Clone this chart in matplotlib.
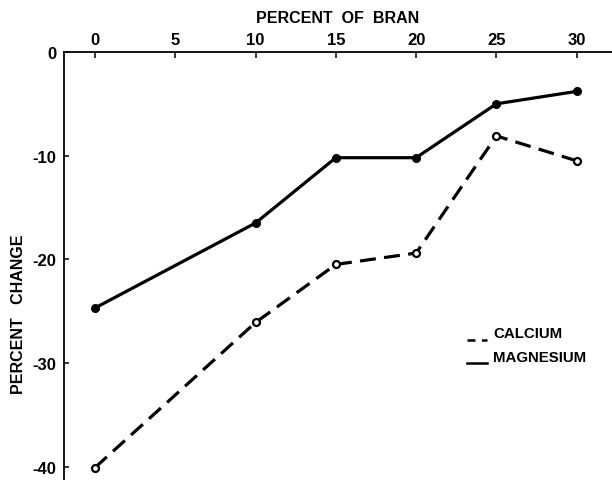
import matplotlib
matplotlib.use("Agg")
import matplotlib.pyplot as plt
from matplotlib.lines import Line2D

# Percent of bran in the diet
bran_pct = [0, 10, 15, 20, 25, 30]
# Percent change in retention
magnesium = [-24.7, -16.5, -10.2, -10.2, -5.0, -3.8]
calcium = [-40.1, -26.1, -20.5, -19.4, -8.1, -10.5]

x_ticks = [0, 5, 10, 15, 20, 25, 30]
y_ticks = [0, -10, -20, -30, -40]

plt.rcParams['font.family'] = ['Liberation Sans', 'DejaVu Sans']
plt.rcParams['font.weight'] = 'bold'

W, H = 612, 481
fig = plt.figure(figsize=(W / 100, H / 100), dpi=100)
ax = fig.add_axes([64 / W, 0.0, 1 - 64 / W, 1 - 53 / H])

ax.plot(bran_pct, magnesium, color='black', lw=2.3, marker='o', ms=5.5,
        mfc='black', mec='black', solid_capstyle='butt')
ax.plot(bran_pct, calcium, color='black', lw=2.3, dashes=[5, 2.6],
        marker='o', ms=5, mfc='white', mec='black', mew=1.6)

ax.set_xlim(-1.93, 32.2)
ax.set_ylim(-41.3, 0)

for side in ('right', 'bottom'):
    ax.spines[side].set_visible(False)
for side in ('left', 'top'):
    ax.spines[side].set_linewidth(1.3)

ax.xaxis.tick_top()
ax.xaxis.set_label_position('top')
ax.set_xticks(x_ticks)
ax.set_xticklabels([str(v) for v in x_ticks])
ax.set_yticks(y_ticks)
ax.set_yticklabels([str(v) for v in y_ticks])
ax.tick_params(axis='x', direction='in', length=4.5, width=1.1,
               labelsize=12, pad=3.5)
ax.tick_params(axis='y', direction='in', length=3.5, width=1.1,
               labelsize=12, pad=5.5)
ax.set_xlabel('PERCENT  OF  BRAN', fontsize=11.5, fontweight='bold',
              labelpad=7)

fig.text(19 / W, 1 - 314 / H, 'PERCENT   CHANGE', rotation=90,
         ha='center', va='center', fontsize=11.5, fontweight='bold')

# Key
fig.add_artist(Line2D([467 / W, 487 / W], [1 - 341 / H] * 2, color='black',
                      lw=1.8, dashes=[3.2, 2.6]))
fig.text(493 / W, 1 - 334 / H, 'CALCIUM', ha='left', va='center',
         fontsize=10.8, fontweight='bold')
fig.add_artist(Line2D([467 / W, 487 / W], [1 - 364 / H] * 2, color='black',
                      lw=1.8))
fig.text(493 / W, 1 - 358 / H, 'MAGNESIUM', ha='left', va='center',
         fontsize=10.8, fontweight='bold')

fig.savefig('out.png', dpi=100)
